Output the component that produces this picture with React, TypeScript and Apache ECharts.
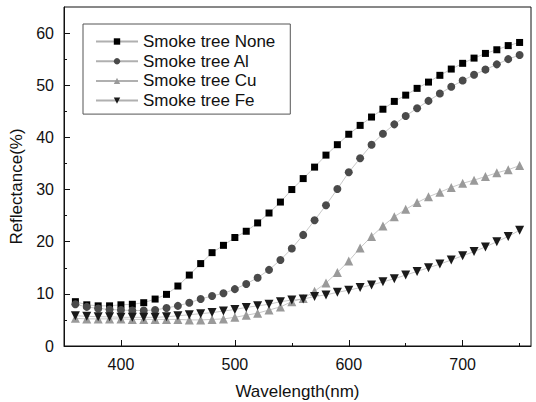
import React, { useEffect, useRef } from "react";
import * as echarts from "echarts";

const wavelengths = [360,370,380,390,400,410,420,430,440,450,460,470,480,490,500,510,520,530,540,550,560,570,580,590,600,610,620,630,640,650,660,670,680,690,700,710,720,730,740,750];

const noneValues = [8.5,7.9,7.7,7.7,7.9,8.0,8.3,9.0,9.9,11.5,13.6,15.8,17.9,19.3,20.8,22.0,23.6,25.5,27.6,30.0,32.1,34.3,36.6,38.6,40.6,42.3,43.9,45.4,46.9,48.1,49.4,50.6,51.9,53.1,54.2,55.2,56.1,56.8,57.6,58.2];
const alValues = [8.0,7.5,7.2,7.0,6.9,6.8,6.8,6.9,7.3,7.7,8.3,9.0,9.6,10.1,10.9,11.9,13.1,14.6,16.5,18.7,21.3,24.1,27.0,30.1,33.3,36.0,38.6,40.7,42.5,44.1,45.6,47.0,48.4,49.7,50.9,52.0,53.0,54.0,55.0,55.8];
const cuValues = [5.3,5.2,5.2,5.2,5.2,5.1,5.1,5.1,5.1,5.1,5.0,5.0,5.1,5.2,5.5,5.9,6.3,6.9,7.5,8.5,9.1,10.5,12.1,14.1,16.3,18.8,21.0,23.0,24.8,26.2,27.5,28.6,29.5,30.4,31.2,31.8,32.5,33.2,33.8,34.6];
const feValues = [5.8,5.7,5.6,5.6,5.5,5.5,5.5,5.5,5.6,5.8,6.0,6.2,6.4,6.7,7.0,7.4,7.7,8.0,8.5,8.8,9.0,9.5,9.8,10.3,10.7,11.2,11.7,12.3,12.9,13.6,14.3,15.0,15.7,16.5,17.3,18.1,19.0,20.0,21.0,22.2];

const seriesNames = ["Smoke tree None", "Smoke tree Al", "Smoke tree Cu", "Smoke tree Fe"];

const xMajorTicks = [400, 500, 600, 700];
const xMinorTicks = [450, 550, 650, 750];
const yMajorTicks = [0, 10, 20, 30, 40, 50, 60];
const yMinorTicks = [5, 15, 25, 35, 45, 55];

const FONT = "'Liberation Sans', Arial, sans-serif";

export default function App() {
  const ref = useRef<HTMLDivElement>(null);
  useEffect(() => {
    if (!ref.current) return;
    const chart = echarts.init(ref.current, null, { renderer: "svg" });
    const pair = (vals: number[]) => wavelengths.map((w, i) => [w, vals[i]]);
    const lineStyle = { color: "#b0b0b0", width: 0.7 };
    const mk = (name: string, vals: number[], symbol: string, size: number, color: string, rotate = 0) => ({
      name,
      type: "line",
      data: pair(vals),
      symbol,
      symbolSize: size,
      symbolRotate: rotate,
      showAllSymbol: true,
      itemStyle: { color, borderWidth: 0 },
      lineStyle,
      emphasis: { disabled: true },
    });
    chart.setOption({
      animation: false,
      backgroundColor: "#ffffff",
      textStyle: { fontFamily: FONT },
      grid: {
        left: 64,
        top: 7,
        right: 5,
        bottom: 56,
        show: true,
        borderColor: "#111",
        borderWidth: 1,
        containLabel: false,
        outerBoundsMode: "none",
      },
      legend: {
        orient: "vertical",
        left: 83,
        top: 24,
        data: seriesNames,
        borderColor: "#555",
        borderWidth: 1,
        padding: [9, 15, 5, 12],
        itemWidth: 42,
        itemHeight: 8,
        itemGap: 2.7,
        textStyle: { fontSize: 17, color: "#111", fontFamily: FONT },
      },
      xAxis: [
        {
          type: "value",
          min: 350,
          max: 760,
          position: "bottom",
          name: "Wavelength(nm)",
          nameLocation: "middle",
          nameGap: 37,
          nameTextStyle: { fontSize: 17, color: "#111", fontFamily: FONT },
          axisLine: { show: true, lineStyle: { color: "#111", width: 1 } },
          axisTick: { show: true, inside: true, length: 6, customValues: xMajorTicks, lineStyle: { color: "#111" } },
          axisLabel: { show: true, customValues: xMajorTicks, fontSize: 16, color: "#111", margin: 10, fontFamily: FONT },
          splitLine: { show: false },
        },
        {
          type: "value",
          min: 350,
          max: 760,
          position: "bottom",
          axisLine: { show: false },
          axisTick: { show: true, inside: true, length: 3, customValues: xMinorTicks, lineStyle: { color: "#111" } },
          axisLabel: { show: false },
          splitLine: { show: false },
        },
      ],
      yAxis: [
        {
          type: "value",
          min: 0,
          max: 65,
          position: "left",
          name: "Reflectance(%)",
          nameLocation: "middle",
          nameRotate: 90,
          nameGap: 34,
          nameTextStyle: { fontSize: 17, color: "#111", fontFamily: FONT, padding: [0, 20, 0, 0] },
          axisLine: { show: true, lineStyle: { color: "#111", width: 1 } },
          axisTick: { show: true, inside: true, length: 6, customValues: yMajorTicks, lineStyle: { color: "#111" } },
          axisLabel: { show: true, customValues: yMajorTicks, fontSize: 16, color: "#111", margin: 10, fontFamily: FONT },
          splitLine: { show: false },
        },
        {
          type: "value",
          min: 0,
          max: 65,
          position: "left",
          axisLine: { show: false },
          axisTick: { show: true, inside: true, length: 3, customValues: yMinorTicks, lineStyle: { color: "#111" } },
          axisLabel: { show: false },
          splitLine: { show: false },
        },
      ],
      series: [
        mk(seriesNames[0], noneValues, "rect", 7, "#000000"),
        mk(seriesNames[1], alValues, "circle", 8, "#4a4a4a"),
        mk(seriesNames[2], cuValues, "triangle", 9, "#9a9a9a"),
        mk(seriesNames[3], feValues, "triangle", 9, "#1a1a1a", 180),
      ],
    });
    return () => chart.dispose();
  }, []);
  return <div ref={ref} style={{ position: "fixed", left: 0, top: 0, width: 536, height: 402 }} />;
}
